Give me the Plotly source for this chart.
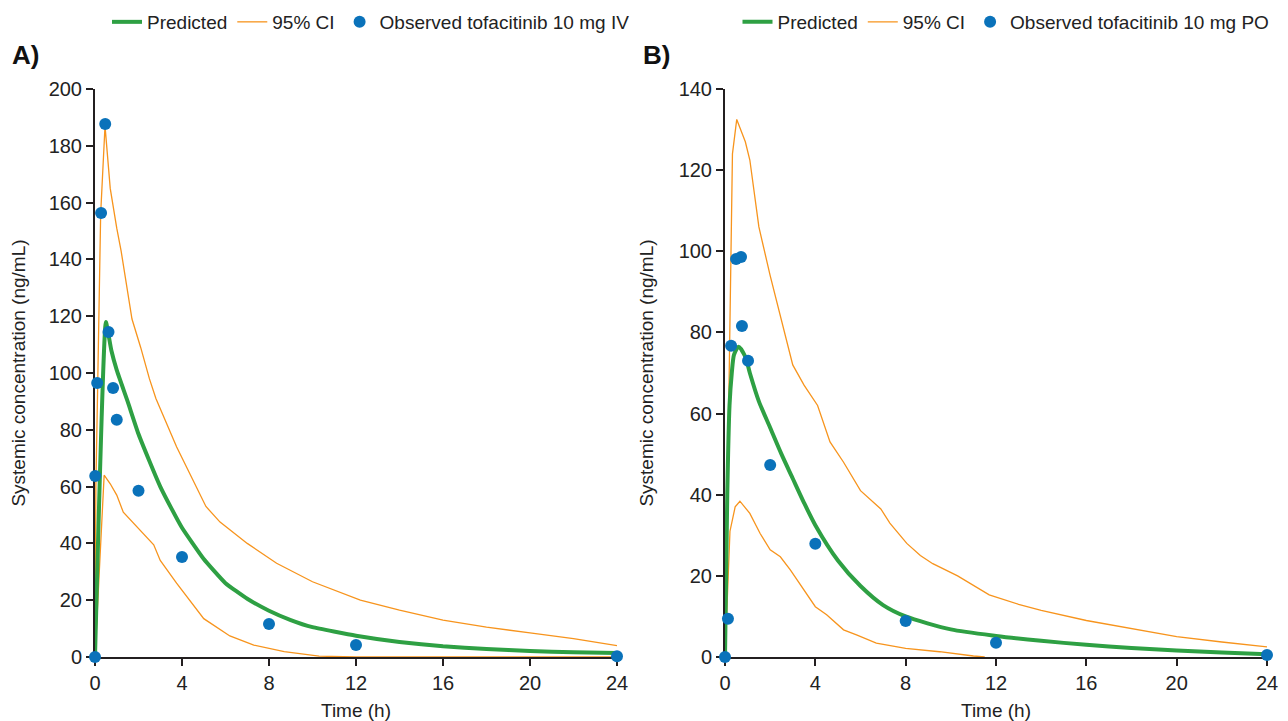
import plotly.graph_objects as go

# ---------------- Panel A: tofacitinib 10 mg IV ----------------
pred_A_t = [0, 0.5, 0.75, 1.0, 1.5, 2, 2.5, 3, 3.5, 4, 5, 6, 7, 8, 9, 10, 12, 14, 16, 18, 20, 22, 24]
pred_A_c = [0, 118, 108, 101, 90, 78.5, 69, 60, 52.5, 45.5, 34.5, 26, 20.5, 16.3, 13, 10.5, 7.5, 5.3, 3.8, 2.8, 2.1, 1.7, 1.4]

ciu_A_t = [0, 0.04, 0.12, 0.26, 0.46, 0.7, 1.0, 1.2, 1.7, 2.1, 2.5, 2.8, 3.75, 5.1, 5.75, 7, 8.35, 10, 12.2, 14, 16, 18, 20, 22, 24]
ciu_A_c = [0, 60, 94, 156, 187, 165, 151, 143, 119, 109, 98, 91, 74, 53, 47.5, 40, 33, 26.5, 20, 16.5, 13, 10.5, 8.5, 6.5, 4.0]

cil_A_t = [0, 0.42, 0.7, 1.0, 1.3, 1.9, 2.7, 3.0, 3.75, 5.0, 6.2, 7.3, 8.7, 10.3, 12, 16, 20, 24]
cil_A_c = [0, 64, 61, 57, 51, 46, 39.5, 34, 26, 13.5, 7.4, 4.2, 1.9, 0.3, 0, 0, 0, 0]

obs_A_t = [0, 0.01, 0.1, 0.28, 0.47, 0.62, 0.83, 1.0, 2.0, 4.0, 8.0, 12.0, 24.0]
obs_A_c = [0, 63.7, 96.5, 156.3, 187.7, 114.4, 94.7, 83.5, 58.5, 35.2, 11.6, 4.2, 0.3]

# ---------------- Panel B: tofacitinib 10 mg PO ----------------
pred_B_t = [0, 0.1, 0.2, 0.3, 0.4, 0.6, 0.9, 1.1, 1.5, 2, 2.5, 3, 3.5, 4, 5, 6, 7, 8, 10, 12, 14, 16, 18, 20, 22, 24]
pred_B_c = [0, 40, 62, 70, 74.5, 76.5, 74, 70, 63, 56.5, 50, 44, 38, 32.5, 23.8, 17.5, 12.8, 10, 6.8, 5.2, 4, 3, 2.2, 1.6, 1.1, 0.7]

ciu_B_t = [0, 0.2, 0.33, 0.52, 0.9, 1.1, 1.5, 2.0, 2.4, 3.0, 3.5, 4.1, 4.65, 5.25, 6.0, 6.9, 7.3, 8.05, 8.65, 9.2, 10.3, 11.2, 11.7, 13, 14, 16, 18, 20, 22, 24]
ciu_B_c = [0, 70, 124, 132.5, 127, 122.5, 106, 94, 85, 72, 67, 62, 53, 48, 41, 36.5, 33, 28, 25, 23, 20, 17, 15.3, 13, 11.5, 9, 7, 5, 3.7, 2.5]

cil_B_t = [0, 0.22, 0.45, 0.66, 1.1, 1.55, 2.0, 2.45, 2.9, 3.5, 4.0, 4.5, 5.25, 5.85, 6.7, 8.0, 9.5, 11.0, 11.5]
cil_B_c = [0, 31, 37, 38.4, 35.4, 30.5, 26.4, 24.7, 21.4, 16.5, 12.4, 10.4, 6.7, 5.4, 3.4, 2.1, 1.3, 0.25, 0]

obs_B_t = [0, 0.13, 0.27, 0.49, 0.71, 0.75, 1.02, 2.0, 4.0, 8.0, 12.0, 24.0]
obs_B_c = [0, 9.4, 76.7, 98.1, 98.6, 81.6, 73, 47.3, 27.9, 8.9, 3.5, 0.5]

x_ticks = [0, 4, 8, 12, 16, 20, 24]

GREEN = "#2EA043"
ORANGE = "#F7941D"
BLUE = "#0A72BA"
AXC = "#231F20"
FONT = "Liberation Sans, Arial, sans-serif"

fig = go.Figure()

def add_panel(xa, ya, leg, pt, pc, ut, uc, lt, lc, ot, oc, obs_name, smooth):
    fig.add_trace(go.Scatter(x=ut, y=uc, mode="lines", name="95% CI",
                             line=dict(color=ORANGE, width=1.3),
                             xaxis=xa, yaxis=ya, legend=leg, legendrank=2))
    fig.add_trace(go.Scatter(x=lt, y=lc, mode="lines", name="95% CI", showlegend=False,
                             line=dict(color=ORANGE, width=1.3),
                             xaxis=xa, yaxis=ya, legend=leg, cliponaxis=False))
    fig.add_trace(go.Scatter(x=pt, y=pc, mode="lines", name="Predicted",
                             line=dict(color=GREEN, width=4, shape="spline", smoothing=smooth),
                             xaxis=xa, yaxis=ya, legend=leg, legendrank=1))
    fig.add_trace(go.Scatter(x=ot, y=oc, mode="markers", name=obs_name,
                             marker=dict(color=BLUE, size=12),
                             xaxis=xa, yaxis=ya, legend=leg, legendrank=3,
                             cliponaxis=False))

add_panel("x", "y", "legend", pred_A_t, pred_A_c, ciu_A_t, ciu_A_c, cil_A_t, cil_A_c,
          obs_A_t, obs_A_c, "Observed tofacitinib 10 mg IV", 0.4)
add_panel("x2", "y2", "legend2", pred_B_t, pred_B_c, ciu_B_t, ciu_B_c, cil_B_t, cil_B_c,
          obs_B_t, obs_B_c, "Observed tofacitinib 10 mg PO", 0.7)

# page has an 8px body margin; figure coordinates = page px - 8
OFF = 8
W, H = 1280, 713

def px(v):
    return (v - OFF) / W

def py(v):
    return 1 - (v - OFF) / H

ydom = [py(657), py(89)]

axis_common = dict(showline=True, linecolor=AXC, linewidth=2, ticks="outside",
                   ticklen=7, tickwidth=2, tickcolor=AXC, showgrid=False, zeroline=False,
                   tickfont=dict(size=20, color="#222", family=FONT),
                   layer="below traces", automargin=False)

title_font = dict(size=19, color="#222", family=FONT)

legend_common = dict(orientation="h", yanchor="top", y=1 + 5 / H,
                     font=dict(size=19, family=FONT, color="#222"), bgcolor="rgba(0,0,0,0)",
                     itemwidth=30, traceorder="normal", borderwidth=0)

fig.update_layout(
    width=W, height=H,
    margin=dict(l=0, r=0, t=0, b=0, autoexpand=False),
    plot_bgcolor="white", paper_bgcolor="white",
    font=dict(family=FONT, color="#222"),
    xaxis=dict(domain=[px(95), px(617)], range=[0, 24], tickvals=x_ticks,
               title=dict(text="Time (h)", font=title_font, standoff=11), anchor="y", **axis_common),
    yaxis=dict(domain=ydom, range=[0, 200], dtick=20,
               title=dict(text="Systemic concentration (ng/mL)", font=title_font, standoff=20),
               anchor="x", **axis_common),
    xaxis2=dict(domain=[px(725), px(1267)], range=[0, 24], tickvals=x_ticks,
                title=dict(text="Time (h)", font=title_font, standoff=11), anchor="y2", **axis_common),
    yaxis2=dict(domain=ydom, range=[0, 140], dtick=20,
                title=dict(text="Systemic concentration (ng/mL)", font=title_font, standoff=20),
                anchor="x2", **axis_common),
    legend=dict(x=px(371), xanchor="center", **legend_common),
    legend2=dict(x=px(1006), xanchor="center", **legend_common),
    annotations=[
        dict(text="<b>A)</b>", x=px(10), y=py(55), xref="paper", yref="paper",
             xanchor="left", yanchor="middle", showarrow=False, font=dict(size=26, family=FONT, color="#111")),
        dict(text="<b>B)</b>", x=px(641), y=py(55), xref="paper", yref="paper",
             xanchor="left", yanchor="middle", showarrow=False, font=dict(size=26, family=FONT, color="#111")),
    ],
)

fig.write_html("out.html")
